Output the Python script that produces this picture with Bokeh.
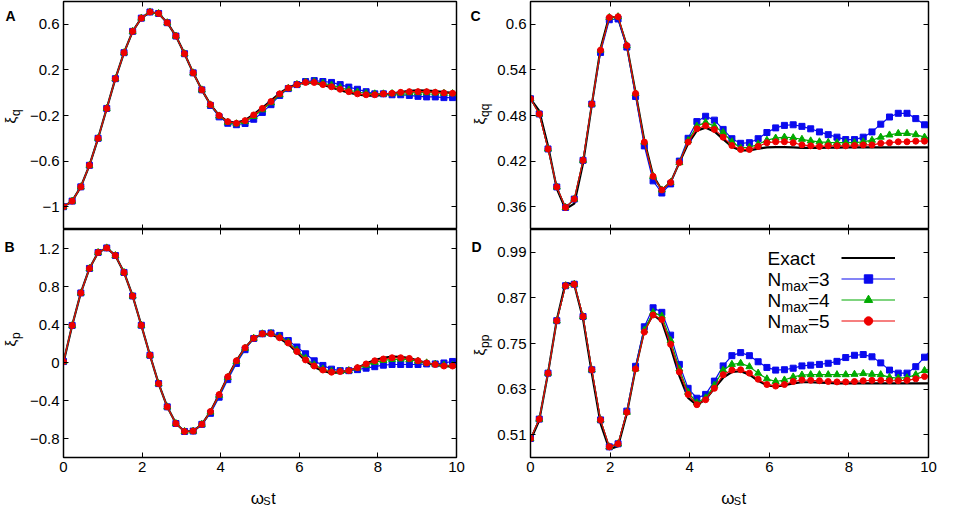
from bokeh.plotting import figure
from bokeh.models import Range1d, FixedTicker, LinearAxis, Label, Legend, LegendItem
from bokeh.layouts import row, column
from bokeh.embed import file_html
from bokeh.resources import INLINE

# ---------------- data ----------------
t = [0.0, 0.22, 0.44, 0.66, 0.88, 1.1, 1.32, 1.54, 1.76, 1.98, 2.2, 2.42, 2.64, 2.86,
     3.08, 3.3, 3.52, 3.74, 3.96, 4.18, 4.4, 4.62, 4.84, 5.06, 5.28, 5.5, 5.72, 5.94,
     6.16, 6.38, 6.6, 6.82, 7.04, 7.26, 7.48, 7.7, 7.92, 8.14, 8.36, 8.58, 8.8, 9.02,
     9.24, 9.46, 9.68, 9.9, 10.12]

# Panel A : xi_q
a_exact = [-1.0, -0.951, -0.826, -0.637, -0.40, -0.138, 0.123, 0.351, 0.538, 0.654, 0.708,
           0.695, 0.614, 0.497, 0.342, 0.174, 0.025, -0.105, -0.200, -0.254, -0.265, -0.240,
           -0.190, -0.132, -0.070, -0.005, 0.045, 0.075, 0.090, 0.087, 0.070, 0.046, 0.021,
           0.000, -0.016, -0.025, -0.026, -0.019, -0.007, 0.006, 0.016, 0.020, 0.019, 0.013,
           0.005, -0.002, -0.006]
a_n3 = [-1.0, -0.951, -0.826, -0.637, -0.40, -0.138, 0.123, 0.351, 0.538, 0.654, 0.708,
        0.695, 0.614, 0.497, 0.342, 0.174, 0.025, -0.112, -0.212, -0.268, -0.281, -0.270,
        -0.233, -0.173, -0.105, -0.024, 0.036, 0.071, 0.098, 0.106, 0.098, 0.090, 0.071,
        0.049, 0.030, 0.009, -0.010, -0.010, -0.018, -0.018, -0.024, -0.032, -0.037, -0.037,
        -0.043, -0.043, -0.045]
a_n4 = [-1.0, -0.951, -0.826, -0.637, -0.40, -0.138, 0.123, 0.351, 0.538, 0.654, 0.708,
        0.695, 0.614, 0.497, 0.342, 0.174, 0.025, -0.107, -0.204, -0.259, -0.273, -0.254,
        -0.208, -0.150, -0.088, -0.018, 0.038, 0.072, 0.093, 0.096, 0.083, 0.066, 0.045,
        0.024, 0.006, -0.005, -0.010, -0.010, -0.008, -0.004, -0.001, 0.000, 0.000, -0.002,
        -0.005, -0.008, -0.010]
a_n5 = [-1.0, -0.951, -0.826, -0.637, -0.40, -0.138, 0.123, 0.351, 0.538, 0.654, 0.708,
        0.695, 0.614, 0.497, 0.342, 0.174, 0.025, -0.105, -0.200, -0.254, -0.268, -0.245,
        -0.195, -0.138, -0.078, -0.010, 0.041, 0.071, 0.090, 0.090, 0.071, 0.052, 0.030,
        0.009, -0.010, -0.018, -0.018, -0.010, -0.005, 0.003, 0.009, 0.009, 0.009, 0.003,
        -0.002, -0.005, -0.007]

# Panel B : xi_p
b_exact = [0.0, 0.39, 0.732, 0.99, 1.158, 1.206, 1.126, 0.948, 0.70, 0.392, 0.076, -0.222,
           -0.467, -0.642, -0.726, -0.722, -0.651, -0.516, -0.338, -0.15, 0.018, 0.156,
           0.255, 0.300, 0.298, 0.255, 0.195, 0.105, 0.018, -0.047, -0.090, -0.110, -0.105,
           -0.088, -0.055, -0.012, 0.025, 0.050, 0.062, 0.060, 0.046, 0.020, -0.006, -0.026,
           -0.038, -0.040, -0.035]
b_n3 = [0.01, 0.39, 0.732, 0.99, 1.158, 1.206, 1.126, 0.948, 0.70, 0.392, 0.076, -0.222,
        -0.467, -0.642, -0.726, -0.722, -0.651, -0.535, -0.365, -0.180, -0.010, 0.135,
        0.253, 0.302, 0.311, 0.285, 0.231, 0.163, 0.092, 0.018, -0.031, -0.070, -0.086,
        -0.086, -0.075, -0.060, -0.044, -0.028, -0.021, -0.021, -0.021, -0.021, -0.015,
        -0.015, -0.005, 0.011, 0.022]
b_n4 = [0.01, 0.39, 0.732, 0.99, 1.158, 1.206, 1.126, 0.948, 0.70, 0.392, 0.076, -0.222,
        -0.467, -0.642, -0.726, -0.722, -0.651, -0.522, -0.345, -0.158, 0.010, 0.150,
        0.255, 0.302, 0.305, 0.270, 0.215, 0.130, 0.045, -0.025, -0.068, -0.092, -0.094,
        -0.085, -0.060, -0.028, 0.002, 0.022, 0.033, 0.036, 0.030, 0.014, -0.004, -0.017,
        -0.027, -0.030, -0.030]
b_n5 = [0.01, 0.39, 0.732, 0.99, 1.158, 1.206, 1.126, 0.948, 0.70, 0.392, 0.076, -0.222,
        -0.467, -0.642, -0.726, -0.722, -0.651, -0.516, -0.338, -0.15, 0.018, 0.156,
        0.255, 0.302, 0.302, 0.260, 0.205, 0.115, 0.027, -0.037, -0.079, -0.102, -0.095,
        -0.086, -0.054, -0.015, 0.018, 0.037, 0.050, 0.050, 0.043, 0.018, -0.005, -0.021,
        -0.037, -0.037, -0.040]

# Panel C : xi_qq
c_exact = [0.502, 0.486, 0.440, 0.384, 0.357, 0.364, 0.417, 0.494, 0.568, 0.611, 0.608,
           0.572, 0.510, 0.447, 0.401, 0.382, 0.392, 0.418, 0.443, 0.460, 0.464, 0.459,
           0.449, 0.439, 0.434, 0.434, 0.4365, 0.438, 0.4385, 0.4385, 0.438, 0.4375, 0.4375,
           0.4375, 0.4378, 0.4378, 0.438, 0.438, 0.438, 0.438, 0.438, 0.438, 0.438, 0.438,
           0.438, 0.438, 0.438]
c_n3 = [0.502, 0.482, 0.436, 0.386, 0.359, 0.370, 0.421, 0.495, 0.563, 0.606, 0.607,
        0.570, 0.505, 0.440, 0.394, 0.378, 0.390, 0.420, 0.450, 0.472, 0.479, 0.4739,
        0.4617, 0.4495, 0.4434, 0.4442, 0.4495, 0.4576, 0.4637, 0.4670, 0.4678, 0.4657,
        0.4625, 0.4584, 0.4548, 0.4515, 0.4483, 0.4483, 0.4515, 0.4584, 0.4686, 0.4780,
        0.4829, 0.4829, 0.4759, 0.4678, 0.458]
c_n4 = [0.502, 0.482, 0.436, 0.386, 0.359, 0.370, 0.421, 0.495, 0.566, 0.609, 0.610,
        0.572, 0.509, 0.445, 0.400, 0.382, 0.392, 0.418, 0.447, 0.466, 0.471, 0.466,
        0.4576, 0.4454, 0.4373, 0.4381, 0.4422, 0.4475, 0.4503, 0.4515, 0.4507, 0.4487,
        0.4466, 0.4454, 0.4446, 0.4442, 0.4442, 0.4442, 0.4454, 0.4475, 0.4515, 0.4544,
        0.4564, 0.4564, 0.4548, 0.4515, 0.450]
c_n5 = [0.502, 0.482, 0.436, 0.386, 0.359, 0.370, 0.421, 0.495, 0.566, 0.609, 0.610,
        0.572, 0.509, 0.445, 0.400, 0.382, 0.392, 0.418, 0.445, 0.4625, 0.4666, 0.4617,
        0.4515, 0.4405, 0.4353, 0.4353, 0.4393, 0.4442, 0.4454, 0.4454, 0.4442, 0.4413,
        0.4401, 0.4393, 0.4401, 0.4401, 0.4401, 0.4405, 0.4413, 0.4413, 0.4434, 0.4442,
        0.4454, 0.4454, 0.4462, 0.4462, 0.4462]

# Panel D : xi_pp
d_exact = [0.495, 0.548, 0.672, 0.812, 0.910, 0.905, 0.815, 0.672, 0.540, 0.472, 0.480,
           0.566, 0.684, 0.785, 0.826, 0.808, 0.740, 0.665, 0.607, 0.588, 0.603, 0.632,
           0.660, 0.675, 0.677, 0.668, 0.652, 0.640, 0.637, 0.640, 0.645, 0.648, 0.648,
           0.647, 0.646, 0.645, 0.645, 0.645, 0.645, 0.645, 0.645, 0.645, 0.645, 0.645,
           0.645, 0.645, 0.645]
d_n3 = [0.500, 0.551, 0.672, 0.810, 0.902, 0.906, 0.821, 0.681, 0.549, 0.478, 0.486,
        0.572, 0.690, 0.794, 0.844, 0.832, 0.772, 0.695, 0.632, 0.606, 0.616, 0.651,
        0.691, 0.718, 0.726, 0.718, 0.702, 0.687, 0.680, 0.681, 0.685, 0.691, 0.693,
        0.695, 0.698, 0.703, 0.713, 0.719, 0.721, 0.715, 0.699, 0.680, 0.672, 0.672,
        0.689, 0.714, 0.740]
d_n4 = [0.500, 0.551, 0.672, 0.810, 0.902, 0.906, 0.821, 0.681, 0.549, 0.478, 0.486,
        0.569, 0.683, 0.785, 0.832, 0.822, 0.758, 0.683, 0.622, 0.594, 0.607, 0.640,
        0.680, 0.695, 0.698, 0.689, 0.672, 0.657, 0.650, 0.654, 0.662, 0.667, 0.668,
        0.668, 0.668, 0.668, 0.668, 0.669, 0.671, 0.669, 0.668, 0.661, 0.659, 0.660,
        0.668, 0.679, 0.685]
d_n5 = [0.500, 0.551, 0.672, 0.810, 0.902, 0.906, 0.821, 0.681, 0.549, 0.478, 0.486,
        0.569, 0.683, 0.780, 0.825, 0.813, 0.748, 0.675, 0.616, 0.589, 0.602, 0.632,
        0.668, 0.680, 0.681, 0.672, 0.656, 0.642, 0.638, 0.642, 0.650, 0.654, 0.653,
        0.652, 0.650, 0.649, 0.649, 0.650, 0.652, 0.653, 0.653, 0.652, 0.652, 0.653,
        0.657, 0.663, 0.667]

x_ticks = [0, 2, 4, 6, 8, 10]
a_ticks = [-1, -0.6, -0.2, 0.2, 0.6]
a_tick_labels = ["\u22121", "\u22120.6", "\u22120.2", "0.2", "0.6"]
b_ticks = [-0.8, -0.4, 0, 0.4, 0.8, 1.2]
b_tick_labels = ["\u22120.8", "\u22120.4", "0", "0.4", "0.8", "1.2"]
c_ticks = [0.36, 0.42, 0.48, 0.54, 0.6]
c_tick_labels = ["0.36", "0.42", "0.48", "0.54", "0.6"]
d_ticks = [0.51, 0.63, 0.75, 0.87, 0.99]
d_tick_labels = ["0.51", "0.63", "0.75", "0.87", "0.99"]

series_names = ["Exact", "N_max=3", "N_max=4", "N_max=5"]

# ---------------- style ----------------
FONT = "Liberation Sans"
BLACK = "#000000"
BLUE = "#0a0aee"
GREEN = "#00aa00"
RED = "#ee0000"


def style_axis(ax, ticks, labels=None):
    ax.ticker = FixedTicker(ticks=ticks, minor_ticks=[])
    ax.major_tick_in = 5
    ax.major_tick_out = 0
    ax.minor_tick_in = 0
    ax.minor_tick_out = 0
    ax.axis_line_color = "black"
    ax.axis_line_width = 1.2
    ax.major_tick_line_color = "black"
    ax.major_tick_line_width = 1.0
    if labels is None:
        ax.major_label_overrides = {tk: "" for tk in ticks}
        ax.major_label_text_font_size = "0px"
        ax.major_label_standoff = 0
    else:
        ax.major_label_overrides = dict(zip(ticks, labels))
        ax.major_label_text_font = FONT
        ax.major_label_text_font_size = "15px"
        ax.major_label_text_color = "black"
        ax.major_label_standoff = 4


def make_panel(width, height, bl, br, bt, bb, yr, yticks, ylabels, xlabels):
    p = figure(width=width, height=height, x_range=Range1d(0, 10),
               y_range=Range1d(yr[0], yr[1]), output_backend="svg",
               toolbar_location=None, min_border_left=bl, min_border_right=br,
               min_border_top=bt, min_border_bottom=bb)
    p.grid.visible = False
    p.outline_line_color = "black"
    p.outline_line_width = 1.3
    p.outline_line_alpha = 1.0
    p.background_fill_color = "white"
    p.border_fill_color = "white"
    style_axis(p.xaxis[0], x_ticks, [str(v) for v in x_ticks] if xlabels else None)
    style_axis(p.yaxis[0], yticks, ylabels)
    top = LinearAxis()
    style_axis(top, x_ticks, None)
    p.add_layout(top, "above")
    right = LinearAxis()
    style_axis(right, yticks, None)
    p.add_layout(right, "right")
    return p


def make_blank(width, height):
    # an empty canvas (pixel coordinates, y up) that only carries text labels
    p = figure(width=width, height=height, x_range=Range1d(0, width),
               y_range=Range1d(0, height), output_backend="svg",
               toolbar_location=None, x_axis_type=None, y_axis_type=None,
               min_border=0)
    p.grid.visible = False
    p.outline_line_color = None
    p.background_fill_color = "white"
    p.border_fill_color = "white"
    return p


def draw_series(p, exact, n3, n4, n5):
    r0 = p.line(t, exact, line_color=BLACK, line_width=2.2)
    r1l = p.line(t, n3, line_color=BLUE, line_width=1.2)
    r1s = p.scatter(t, n3, marker="square", size=6, fill_color=BLUE, line_color=BLUE)
    r2l = p.line(t, n4, line_color=GREEN, line_width=1.2)
    r2s = p.scatter(t, n4, marker="triangle", size=7, fill_color=GREEN, line_color=GREEN)
    r3l = p.line(t, n5, line_color=RED, line_width=1.2)
    r3s = p.scatter(t, n5, marker="circle", size=6, fill_color=RED, line_color=RED)
    return [[r0], [r1l, r1s], [r2l, r2s], [r3l, r3s]]


def add_text(p, x, y, text, dx, dy, size, align="left", baseline="middle",
             angle=0, bold=False):
    p.add_layout(Label(x=x, y=y, x_offset=dx, y_offset=dy, text=text,
                       text_font=FONT, text_font_size=size, text_align=align,
                       text_baseline=baseline, angle=angle, angle_units="deg",
                       text_font_style="bold" if bold else "normal",
                       text_color="black"))


def ylabel(p, x, yc, sub, start):
    add_text(p, x, yc, "\u03be", 0, start, "15px", angle=90)
    add_text(p, x, yc, sub, 5, start + 7.5, "12px", angle=90)


def xlabel(p, xc):
    add_text(p, xc, 10, "\u03c9", -19, 0, "17px", baseline="alphabetic")
    add_text(p, xc, 10, "S", -6.5, -2.5, "11px", baseline="alphabetic")
    add_text(p, xc, 10, "t", 1.5, 0, "16px", baseline="alphabetic")


a_range = (-1.2, 0.8)
b_range = (-1.0, 1.4)
c_range = (0.33, 0.63)
d_range = (0.45, 1.05)

# geometry (pixels)
SIDE = 26
LW, RW = 442, 446
FH = 228
TOPH, BOTH, XLH = FH + 1, FH + 21, 30
TOTH = TOPH + BOTH + XLH

pA = make_panel(LW, TOPH, 34, 12, 1, 0, a_range, a_ticks, a_tick_labels, False)
pC = make_panel(RW, TOPH, 36, 12, 1, 0, c_range, c_ticks, c_tick_labels, False)
pB = make_panel(LW, BOTH, 34, 12, 0, 21, b_range, b_ticks, b_tick_labels, True)
pD = make_panel(RW, BOTH, 36, 12, 0, 21, d_range, d_ticks, d_tick_labels, True)

draw_series(pA, a_exact, a_n3, a_n4, a_n5)
draw_series(pB, b_exact, b_n3, b_n4, b_n5)
draw_series(pC, c_exact, c_n3, c_n4, c_n5)
groups = draw_series(pD, d_exact, d_n3, d_n4, d_n5)

# side strips with panel letters and y labels
left_strip = make_blank(SIDE, TOTH)
mid_strip = make_blank(SIDE, TOTH)

ca = 1 + FH / 2
cb = TOPH + FH / 2
add_text(left_strip, 5, TOTH - 7, "A", 0, 0, "14px", baseline="top", bold=True)
add_text(left_strip, 4, TOTH - (TOPH + 9), "B", 0, 0, "14px", baseline="top", bold=True)
add_text(mid_strip, 2, TOTH - 7, "C", 0, 0, "14px", baseline="top", bold=True)
add_text(mid_strip, 3, TOTH - (TOPH + 9), "D", 0, 0, "14px", baseline="top", bold=True)

ylabel(left_strip, 10, TOTH - ca, "q", -8)
ylabel(left_strip, 10, TOTH - cb, "p", -3)
ylabel(mid_strip, 11, TOTH - ca, "qq", -9)
ylabel(mid_strip, 11, TOTH - cb, "pp", -12)

# x labels strips
xl_left = make_blank(LW, XLH)
xl_right = make_blank(RW, XLH)
xlabel(xl_left, 34 + 198)
xlabel(xl_right, 36 + 199)

# legend (samples drawn by Bokeh legend, text to their left)
legend = Legend(items=[LegendItem(label=" ", renderers=g) for g in groups],
                location=(311, 126), glyph_width=54, glyph_height=21,
                label_height=21, label_width=0, label_standoff=0, spacing=0,
                padding=0, margin=0, border_line_alpha=0, background_fill_alpha=0,
                label_text_font_size="10px")
pD.add_layout(legend)

rows = [-29, -50, -71, -92]
add_text(pD, 0, d_range[1], series_names[0], 237, rows[0], "19px")
for name, ry in zip(series_names[1:], rows[1:]):
    base, rest = name.split("_")
    sub, tail = rest.split("=")
    add_text(pD, 0, d_range[1], base, 237, ry, "19px")
    add_text(pD, 0, d_range[1], sub, 251, ry - 6.5, "14px")
    add_text(pD, 0, d_range[1], "=" + tail, 277.5, ry, "19px")

layout = row(left_strip, column(pA, pB, xl_left), mid_strip, column(pC, pD, xl_right))

open("out.html", "w").write(file_html(layout, INLINE))
